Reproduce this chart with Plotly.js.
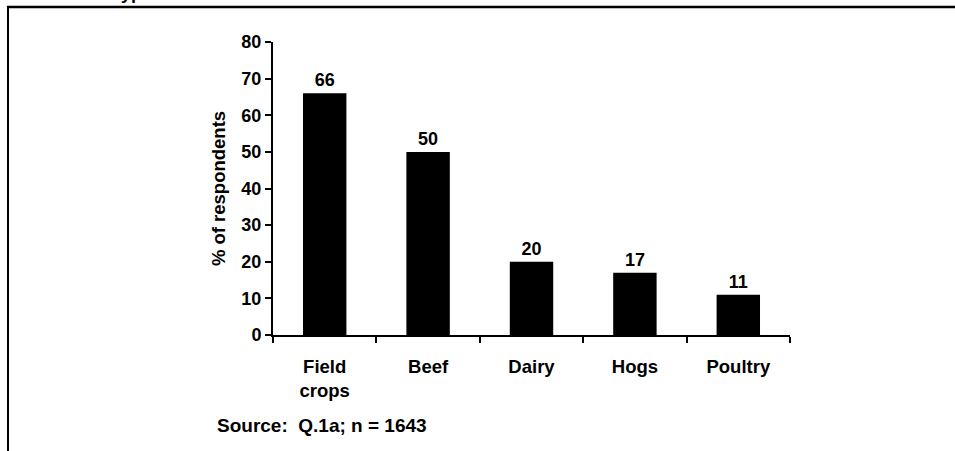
<!DOCTYPE html>
<html>
<head>
<meta charset="utf-8">
<script src="https://cdn.plot.ly/plotly-3.0.1.min.js"></script>
<style>html,body{margin:0;padding:0;background:#fff;}#chart{width:955px;height:451px;}</style>
</head>
<body>
<div id="chart"></div>
<script>
const categories = ["Field<br>crops", "Beef", "Dairy", "Hogs", "Poultry"];
const values = [66, 50, 20, 17, 11];
const yTickVals = [0, 10, 20, 30, 40, 50, 60, 70, 80];
const yTitle = "% of respondents";
const sourceNote = "Source:  Q.1a; n = 1643";
const cutTitle = "Farm type";

const FONT = "Arial, 'Liberation Sans', sans-serif";
const L = 273, R = 790, T = 42, B = 335, W = 955, H = 451;
const px2x = p => (p - L) / (R - L);
const px2y = p => (B - p) / (B - T);

const trace = {
  type: "bar",
  x: categories,
  y: values,
  marker: {color: "#000000", line: {width: 0}},
  text: values.map(String),
  textposition: "outside",
  cliponaxis: false,
  textfont: {family: FONT, size: 18, color: "#000", weight: "bold"},
  hoverinfo: "skip"
};

const layout = {
  width: W, height: H,
  margin: {l: L, r: W - R, t: T, b: H - B, pad: 0},
  paper_bgcolor: "#fff", plot_bgcolor: "#fff",
  showlegend: false,
  bargap: 0.58,
  font: {family: FONT, size: 18, color: "#000", weight: "bold"},
  xaxis: {
    showline: true, linecolor: "#000", linewidth: 2,
    ticks: "outside", ticklen: 6, tickwidth: 2, tickcolor: "#000",
    tickson: "boundaries",
    ticklabelstandoff: 14,
    showgrid: false, zeroline: false,
    tickfont: {family: FONT, size: 18.5, color: "#000", weight: "bold"},
    automargin: false
  },
  yaxis: {
    range: [0, 80], tickvals: yTickVals,
    showline: true, linecolor: "#000", linewidth: 2,
    ticks: "outside", ticklen: 6, tickwidth: 2, tickcolor: "#000",
    showgrid: false, zeroline: false,
    tickfont: {family: FONT, size: 18, color: "#000", weight: "bold"},
    title: {text: yTitle, font: {family: FONT, size: 18.5, color: "#000", weight: "bold"}, standoff: 11},
    automargin: false
  },
  shapes: [
    {type: "line", xref: "paper", yref: "paper", x0: px2x(7), x1: px2x(956), y0: px2y(7), y1: px2y(7), line: {color: "#000", width: 2.5}},
    {type: "line", xref: "paper", yref: "paper", x0: px2x(8), x1: px2x(8), y0: px2y(7), y1: px2y(452), line: {color: "#000", width: 2}}
  ],
  annotations: [
    {text: sourceNote, xref: "paper", yref: "paper", x: px2x(215), y: px2y(425), xanchor: "left", yanchor: "middle", showarrow: false,
     font: {family: FONT, size: 19, color: "#000", weight: "bold"}},
    {text: cutTitle, xref: "paper", yref: "paper", x: px2x(154), y: px2y(-7), xanchor: "right", yanchor: "middle", showarrow: false,
     font: {family: FONT, size: 18, color: "#000", weight: "bold"}}
  ]
};

Plotly.newPlot("chart", [trace], layout, {displayModeBar: false, staticPlot: true});
</script>
</body>
</html>
